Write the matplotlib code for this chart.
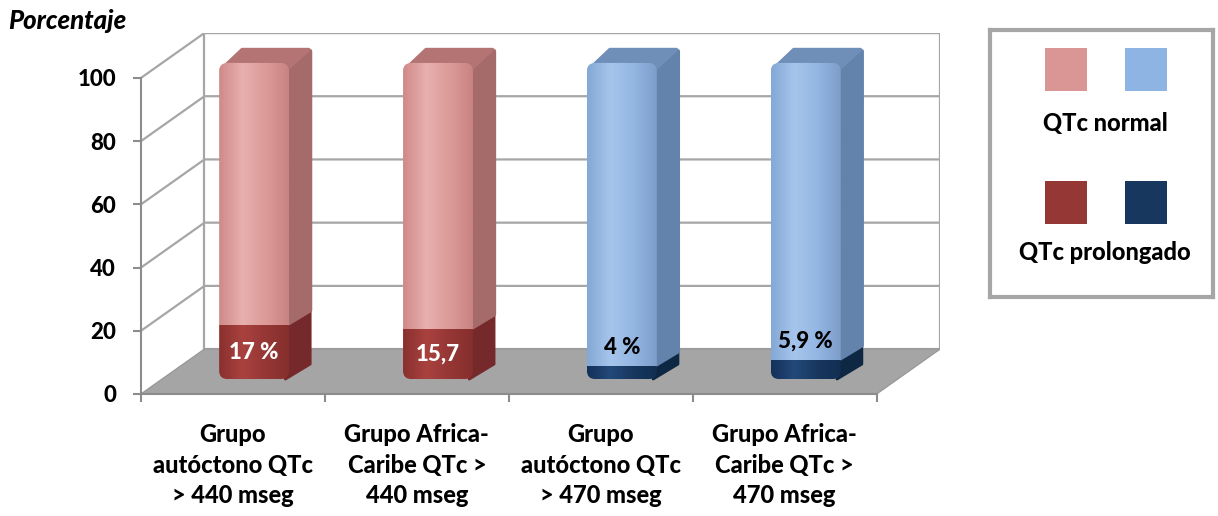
import matplotlib
matplotlib.use("Agg")
import matplotlib.pyplot as plt
import numpy as np
from matplotlib.colors import LinearSegmentedColormap
from matplotlib.patches import FancyBboxPatch, Polygon, Rectangle

plt.rcParams["font.family"] = ["Lato", "DejaVu Sans"]

# datos
categorias = [
    "Grupo\nautóctono QTc\n> 440 mseg",
    "Grupo Africa-\nCaribe QTc >\n440 mseg",
    "Grupo\nautóctono QTc\n> 470 mseg",
    "Grupo Africa-\nCaribe QTc >\n470 mseg",
]
qtc_prolongado = [17, 15.7, 4, 5.9]
qtc_normal = [83, 84.3, 96, 94.1]
etiquetas = ["17 %", "15,7", "4 %", "5,9 %"]
yticks = [0, 20, 40, 60, 80, 100]

# colores (claro, oscuro) por grupo
claro = ["#d99694", "#d99694", "#8eb4e3", "#8eb4e3"]
oscuro = ["#953735", "#953735", "#17375e", "#17375e"]
lado_claro = ["#a56a6a", "#a56a6a", "#6383ad", "#6383ad"]
lado_oscuro = ["#76292a", "#76292a", "#0e2743", "#0e2743"]
tapa = ["#b37473", "#b37473", "#6f8eb8", "#6f8eb8"]
grad_claro = [
    ["#cf8a88", "#e8b0ae", "#dc9a98", "#c98482"],
    ["#cf8a88", "#e8b0ae", "#dc9a98", "#c98482"],
    ["#84a9d6", "#a6c5ec", "#93b6e2", "#7f9fca"],
    ["#84a9d6", "#a6c5ec", "#93b6e2", "#7f9fca"],
]
grad_oscuro = [
    ["#8a302e", "#a9423f", "#953735", "#862f2d"],
    ["#8a302e", "#a9423f", "#953735", "#862f2d"],
    ["#14325a", "#23497a", "#17375e", "#122f52"],
    ["#14325a", "#23497a", "#17375e", "#122f52"],
]

# pseudo 3D: desplazamiento de profundidad en unidades de datos
DX, DY = 0.345, 14.2
ANCHO = 0.38
GRIS = "#a6a6a6"
PESO = "black"

fig = plt.figure(figsize=(12.18, 5.16), dpi=100)
ax = fig.add_axes([141 / 1218, 122 / 516, 799 / 1218, 361 / 516])
ax.set_xlim(-0.5, 3.5 + DX)
ax.set_ylim(0, 100 + DY)
ax.patch.set_visible(False)

x_izq, x_der = -0.5, len(categorias) - 0.5

# pared del fondo y lateral
ax.add_patch(Rectangle((x_izq + DX, DY), x_der - x_izq, 100, facecolor="white",
                       edgecolor=GRIS, lw=1.6, zorder=1))
for v in yticks[1:]:
    ax.plot([x_izq, x_izq + DX, x_der + DX], [v, v + DY, v + DY], color=GRIS, lw=1.6, zorder=2)

# suelo
ax.add_patch(Polygon([(x_izq, 0), (x_der, 0), (x_der + DX, DY), (x_izq + DX, DY)],
                     closed=True, facecolor="#a5a5a5", edgecolor="#999999", lw=1, zorder=3))

# redondeo de esquinas: radio en x, proporcion y/x segun escala de pixeles
RADIO = 0.045
ASPECTO = (799 / 4.345) / (361 / 114.2)


def cara_frontal(x0, x1, y0, y1, colores, clip):
    cmap = LinearSegmentedColormap.from_list("g", colores)
    im = ax.imshow(np.linspace(0, 1, 64)[None, :], cmap=cmap, extent=[x0, x1, y0, y1],
                   aspect="auto", origin="lower", zorder=6, interpolation="bilinear")
    im.set_clip_path(clip)


fx, fy = DX / 3, DY / 3
for i in range(len(categorias)):
    p, n = qtc_prolongado[i], qtc_normal[i]
    x0 = i - ANCHO / 2 + fx
    x1 = i + ANCHO / 2 + fx
    top = p + n
    # caras laterales
    ax.add_patch(Polygon([(x1 - 0.02, fy), (x1 + fx, 2 * fy), (x1 + fx, p + 2 * fy), (x1 - 0.02, p + fy)],
                         facecolor=lado_oscuro[i], edgecolor=lado_oscuro[i], lw=2,
                         joinstyle="round", zorder=5))
    ax.add_patch(Polygon([(x1 - 0.02, p + fy), (x1 + fx, p + 2 * fy), (x1 + fx, top + 2 * fy - 1),
                          (x1 - 0.02, top + fy)],
                         facecolor=lado_claro[i], edgecolor=lado_claro[i], lw=3,
                         joinstyle="round", zorder=5))
    # tapa
    ax.add_patch(Polygon([(x0 + 0.012, top + fy - 2), (x1 - 0.01, top + fy - 2),
                          (x1 + fx - 0.008, top + 2 * fy - 0.5), (x0 + fx + 0.01, top + 2 * fy - 0.5)],
                         facecolor=tapa[i], edgecolor=tapa[i], lw=2.5, joinstyle="round", zorder=5))
    # caras frontales (recortadas con esquinas redondeadas)
    marco = FancyBboxPatch((x0, fy), x1 - x0, top, boxstyle=f"round,pad=0,rounding_size={RADIO}",
                           mutation_aspect=ASPECTO, facecolor="none",
                           edgecolor="none", transform=ax.transData)
    ax.add_patch(marco)
    cara_frontal(x0, x1, fy, p + fy, grad_oscuro[i], marco)
    cara_frontal(x0, x1, p + fy, top + fy, grad_claro[i], marco)
    # etiqueta
    if p > 10:
        ax.text(i + fx, p / 2 + fy, etiquetas[i], color="white", ha="center", va="center",
                fontsize=16, fontweight=PESO, zorder=8)
    else:
        ax.text(i + fx, p + fy + 6.0, etiquetas[i], color="black", ha="center", va="center",
                fontsize=16, fontweight=PESO, zorder=8)

# ejes
for s in ["top", "right"]:
    ax.spines[s].set_visible(False)
for s in ["left", "bottom"]:
    ax.spines[s].set_color("#8c8c8c")
    ax.spines[s].set_linewidth(1.5)
    ax.spines[s].set_zorder(4)
ax.spines["left"].set_bounds(0, 100)
ax.spines["bottom"].set_bounds(x_izq, x_der)
ax.set_yticks(yticks)
ax.set_yticklabels([str(v) for v in yticks], fontsize=16, fontweight=PESO)
ax.tick_params(axis="y", length=6, width=1.5, color="#8c8c8c", pad=12)
ax.set_xticks(np.arange(x_izq, x_der + 0.01, 1.0))
ax.set_xticklabels([])
ax.tick_params(axis="x", which="major", length=6, width=1.5, color="#8c8c8c")
ax.set_xticks(range(len(categorias)), minor=True)
ax.set_xticklabels(categorias, minor=True, fontsize=17, fontweight=PESO, linespacing=1.4)
ax.tick_params(axis="x", which="minor", length=0, pad=21)

fig.text(8 / 1218, 1 - 21 / 516, "Porcentaje", fontsize=18.5, fontweight=PESO, style="italic",
         ha="left", va="center")

# leyenda
lg = fig.add_axes([990 / 1218, (516 - 297) / 516, 223 / 1218, 267 / 516])
lg.set_xlim(990, 1213)
lg.set_ylim(297, 30)
lg.set_xticks([])
lg.set_yticks([])
for s in lg.spines.values():
    s.set_color("#a6a6a6")
    s.set_linewidth(3)
lg.add_patch(Rectangle((1045, 48), 42, 43, facecolor=claro[0], edgecolor="none"))
lg.add_patch(Rectangle((1125, 48), 42, 43, facecolor=claro[2], edgecolor="none"))
lg.add_patch(Rectangle((1045, 181), 42, 43, facecolor=oscuro[0], edgecolor="none"))
lg.add_patch(Rectangle((1125, 181), 42, 43, facecolor=oscuro[2], edgecolor="none"))
lg.text(1105, 124, "QTc normal", ha="center", va="center", fontsize=17, fontweight=PESO)
lg.text(1105, 253, "QTc prolongado", ha="center", va="center", fontsize=17, fontweight=PESO)

fig.savefig("out.png", dpi=100)
